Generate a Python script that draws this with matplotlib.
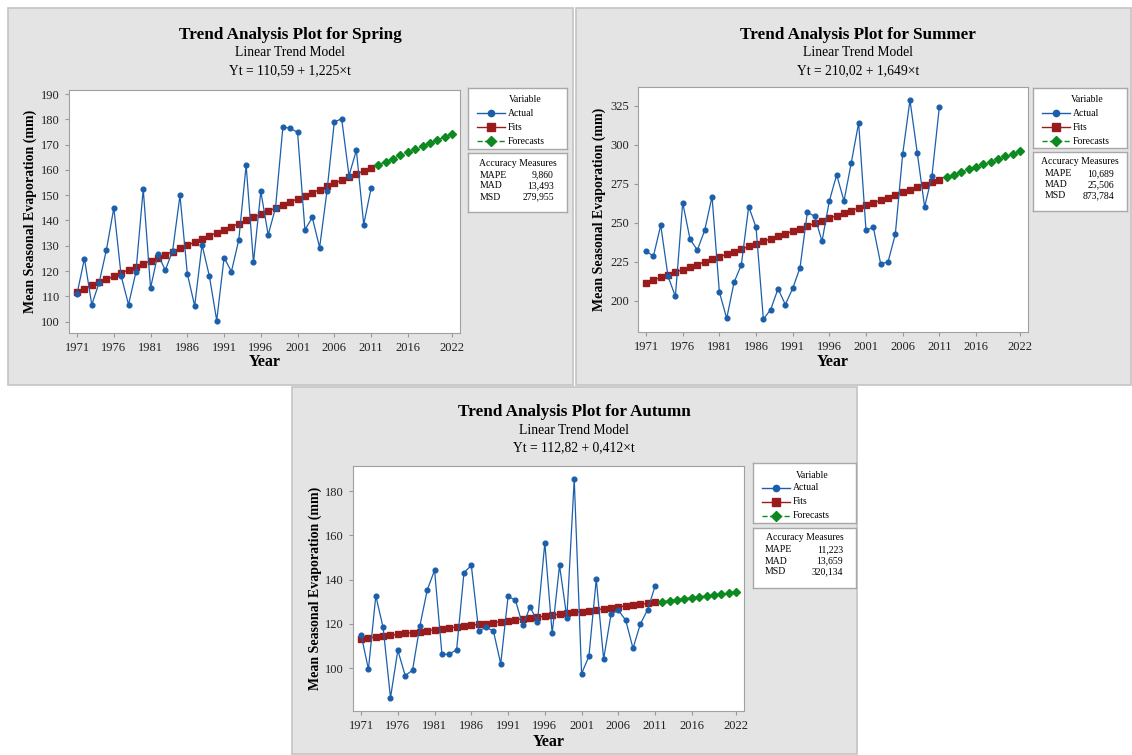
import matplotlib
matplotlib.use("Agg")
import matplotlib.pyplot as plt
from matplotlib.patches import Rectangle
from matplotlib.lines import Line2D

plt.rcParams['font.family'] = ['Liberation Serif', 'DejaVu Serif']

# ---- data ----
years_actual = list(range(1971, 2012))
years_fc = list(range(2012, 2023))
xticks = [1971, 1976, 1981, 1986, 1991, 1996, 2001, 2006, 2011, 2016, 2022]

spring_actual = [111.1, 124.9, 106.7, 115.4, 128.5, 145.0, 118.0, 106.7, 119.5, 152.4,
                 113.3, 126.7, 120.3, 128.0, 149.9, 118.9, 106.2, 130.4, 118.0, 100.4,
                 125.3, 119.8, 132.3, 161.9, 123.4, 151.5, 134.3, 145.0, 176.9, 176.5,
                 174.8, 136.3, 141.2, 129.3, 151.6, 179.0, 180.2, 157.7, 167.8, 138.4,
                 152.7]
spring_fits = [111.8, 113.0, 114.3, 115.5, 116.7, 117.9, 119.2, 120.4, 121.6, 122.8,
               124.1, 125.3, 126.5, 127.7, 129.0, 130.2, 131.4, 132.6, 133.9, 135.1,
               136.3, 137.5, 138.8, 140.0, 141.2, 142.4, 143.7, 144.9, 146.1, 147.3,
               148.6, 149.8, 151.0, 152.2, 153.5, 154.7, 155.9, 157.1, 158.4, 159.6,
               160.8]
spring_fc = [162.0, 163.3, 164.5, 165.7, 166.9, 168.2, 169.4, 170.6, 171.8, 173.1, 174.3]
spring_acc = ["9,860", "13,493", "279,955"]

summer_actual = [231.9, 228.5, 248.4, 215.6, 202.8, 262.9, 239.4, 232.5, 245.2, 266.8,
                 205.6, 188.7, 211.8, 223.1, 260.4, 247.1, 188.2, 194.4, 207.7, 197.6,
                 207.9, 221.2, 256.7, 254.2, 238.1, 264.0, 280.7, 264.0, 288.6, 314.1,
                 245.2, 247.1, 223.8, 224.8, 242.6, 293.8, 328.6, 294.6, 260.1, 280.1,
                 323.9]
summer_fits = [211.7, 213.3, 215.0, 216.6, 218.3, 219.9, 221.6, 223.2, 224.9, 226.5,
               228.2, 229.8, 231.5, 233.1, 234.8, 236.4, 238.1, 239.7, 241.4, 243.0,
               244.6, 246.3, 247.9, 249.6, 251.2, 252.9, 254.5, 256.2, 257.8, 259.5,
               261.1, 262.8, 264.4, 266.1, 267.7, 269.4, 271.0, 272.7, 274.3, 276.0,
               277.6]
summer_fc = [279.3, 280.9, 282.6, 284.2, 285.9, 287.5, 289.2, 290.8, 292.5, 294.1, 295.8]
summer_acc = ["10,689", "25,506", "873,784"]

autumn_actual = [115.2, 99.5, 132.7, 118.4, 86.7, 108.1, 96.7, 99.1, 119.1, 135.3,
                 144.3, 106.3, 106.3, 108.4, 143.2, 146.4, 116.9, 118.4, 116.9, 102.0,
                 132.5, 130.7, 119.3, 127.7, 120.9, 156.6, 115.7, 146.4, 122.9, 185.4,
                 97.6, 105.4, 140.2, 104.1, 124.3, 126.2, 121.7, 109.0, 120.0, 126.5,
                 137.1]
autumn_fits = [113.2, 113.6, 114.1, 114.5, 114.9, 115.3, 115.7, 116.1, 116.5, 116.9,
               117.4, 117.8, 118.2, 118.6, 119.0, 119.4, 119.8, 120.2, 120.6, 121.1,
               121.5, 121.9, 122.3, 122.7, 123.1, 123.5, 123.9, 124.4, 124.8, 125.2,
               125.6, 126.0, 126.4, 126.8, 127.2, 127.7, 128.1, 128.5, 128.9, 129.3,
               129.7]
autumn_fc = [130.1, 130.5, 130.9, 131.4, 131.8, 132.2, 132.6, 133.0, 133.4, 133.8, 134.2]
autumn_acc = ["11,223", "13,659", "320,134"]

W, H = 1132, 755
fig = plt.figure(figsize=(W / 100, H / 100), dpi=100)
fig.patch.set_facecolor('white')

C_ACT = '#1b5fab'
C_FIT = '#9a1b1b'
C_FC = '#0c8a1f'


def fx(x):
    return x / W


def fy(y):
    return 1 - y / H


def box_axes(x0, y0, x1, y1):
    # small axes in pixel units for legend boxes
    a = fig.add_axes([fx(x0), fy(y1), (x1 - x0) / W, (y1 - y0) / H])
    a.set_xlim(0, x1 - x0)
    a.set_ylim(y1 - y0, 0)
    a.set_xticks([])
    a.set_yticks([])
    a.set_facecolor('white')
    for s in a.spines.values():
        s.set_color('#a8a8a8')
        s.set_linewidth(1)
    return a


def panel(pbox, abox, tcx, ty, ylx, xly, lbox, accbox, season, eq,
          actual, fits, fc, acc, ylim, yticks):
    # gray panel background
    fig.add_artist(Rectangle((fx(pbox[0]), fy(pbox[3])), (pbox[2] - pbox[0]) / W,
                             (pbox[3] - pbox[1]) / H, transform=fig.transFigure,
                             facecolor='#e4e4e4', edgecolor='#c4c4c4', lw=1.2, zorder=-5))
    ax = fig.add_axes([fx(abox[0]), fy(abox[3]), (abox[2] - abox[0]) / W,
                       (abox[3] - abox[1]) / H])
    ax.plot(years_actual, actual, color=C_ACT, lw=0.9, marker='o', ms=3.4, zorder=3)
    ax.plot(years_actual, fits, color=C_FIT, lw=1.0, marker='s', ms=4.6, zorder=2)
    ax.plot(years_fc, fc, color=C_FC, lw=1.0, ls='--', marker='D', ms=4.4, zorder=2)
    ax.set_xlim(1969.9, 2023.1)
    ax.set_ylim(*ylim)
    ax.set_xticks(xticks)
    ax.set_yticks(yticks)
    ax.tick_params(labelsize=9, colors='#222222', length=3, width=0.8)
    ax.tick_params(axis='both', color='#999999')
    for s in ax.spines.values():
        s.set_color('#a0a0a0')
    # titles
    fig.text(fx(tcx), fy(ty[0]), 'Trend Analysis Plot for ' + season, ha='center',
             va='center', fontsize=12.3, fontweight='bold')
    fig.text(fx(tcx), fy(ty[1]), 'Linear Trend Model', ha='center', va='center', fontsize=9.8)
    fig.text(fx(tcx), fy(ty[2]), eq, ha='center', va='center', fontsize=9.8)
    fig.text(fx(ylx), fy((abox[1] + abox[3]) / 2), 'Mean Seasonal Evaporation (mm)',
             rotation=90, ha='center', va='center', fontsize=10, fontweight='bold')
    fig.text(fx((abox[0] + abox[2]) / 2), fy(xly), 'Year', ha='center', va='center',
             fontsize=11.5, fontweight='bold')

    # legend box
    lg = box_axes(*lbox)
    lw_ = lbox[2] - lbox[0]
    lg.text(lw_ * 0.58, 12, 'Variable', ha='center', va='center', fontsize=7)
    rows = [('Actual', C_ACT, '-', 'o', 4.5), ('Fits', C_FIT, '-', 's', 5.5),
            ('Forecasts', C_FC, '--', 'D', 5)]
    for i, (lab, c, ls, mk, ms) in enumerate(rows):
        yy = 25 + i * 14
        lg.add_line(Line2D([9, 37], [yy, yy], color=c, lw=1, ls=ls))
        lg.plot([23], [yy], marker=mk, color=c, ms=ms)
        lg.text(40, yy, lab, ha='left', va='center', fontsize=7)

    # accuracy box
    ab = box_axes(*accbox)
    aw = accbox[2] - accbox[0]
    ab.text(aw / 2, 10, 'Accuracy Measures', ha='center', va='center', fontsize=7)
    for i, (lab, val) in enumerate(zip(['MAPE', 'MAD', 'MSD'], acc)):
        yy = 22 + i * 11
        ab.text(12, yy, lab, ha='left', va='center', fontsize=7)
        ab.text(aw - 13, yy, val, ha='right', va='center', fontsize=7)
    return ax


panel((8, 8, 573, 385), (69, 90, 460, 333), 290, (35, 53, 71), 30, 362,
      (468, 88, 567, 149), (468, 153, 567, 212), 'Spring', 'Yt = 110,59 + 1,225\u00d7t',
      spring_actual, spring_fits, spring_fc, spring_acc, (95.5, 191.6),
      list(range(100, 191, 10)))

panel((576, 8, 1131, 385), (638, 87, 1028, 332), 858, (35, 53, 71), 599, 362,
      (1033, 88, 1127, 148), (1033, 152, 1127, 211), 'Summer', 'Yt = 210,02 + 1,649\u00d7t',
      summer_actual, summer_fits, summer_fc, summer_acc, (180, 337),
      [200, 225, 250, 275, 300, 325])

panel((292, 387, 857, 754), (353, 466, 744, 711), 574, (412, 430, 448), 315, 742,
      (753, 463, 856, 523), (753, 528, 856, 588), 'Autumn', 'Yt = 112,82 + 0,412\u00d7t',
      autumn_actual, autumn_fits, autumn_fc, autumn_acc, (80.7, 191.3),
      [100, 120, 140, 160, 180])

fig.savefig('out.png', dpi=100)
